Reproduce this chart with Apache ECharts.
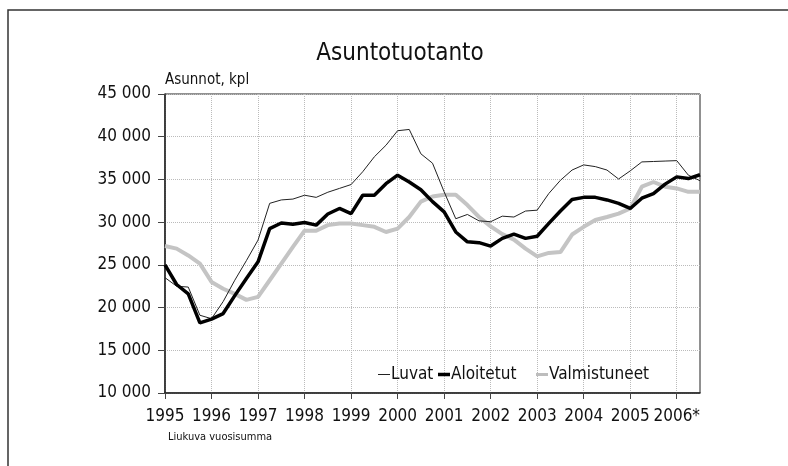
<!DOCTYPE html>
<html>
<head>
<meta charset="utf-8">
<script src="https://cdn.jsdelivr.net/npm/echarts@6/dist/echarts.min.js"></script>
<style>
  html, body { margin: 0; padding: 0; background: #fff; }
  #chart { width: 788px; height: 466px; }
</style>
</head>
<body>
<div id="chart"></div>
<script>
// vuodet ja neljännekset (liukuva vuosisumma, neljännesvuosittain)
const vuodet = ["1995", "1996", "1997", "1998", "1999", "2000", "2001", "2002", "2003", "2004", "2005", "2006*"]
const neljannekset = ["Q1", "Q2", "Q3", "Q4"]

const luvat = [
    23500, 22500, 22400, 19100, 18700, 20700, 23200, 25500,
    27900, 32200, 32600, 32700, 33150, 32900, 33500, 33950,
    34400, 35900, 37650, 39000, 40700, 40850, 38000, 36900,
    33550, 30400, 30900, 30150, 30050, 30700, 30600, 31300,
    31400, 33350, 34900, 36100, 36700, 36500, 36100, 35050,
    36000, 37050, 37100, 37150, 37200, 35500, 34850,
]
const aloitetut = [
    25000, 22700, 21600, 18200, 18650, 19300, 21400, 23400,
    25350, 29250, 29900, 29750, 29950, 29650, 30950, 31600,
    31000, 33150, 33150, 34500, 35500, 34700, 33800, 32400,
    31200, 28850, 27700, 27600, 27200, 28100, 28600, 28100,
    28350, 29850, 31300, 32650, 32900, 32900, 32600, 32200,
    31600, 32800, 33350, 34450, 35300, 35100, 35550,
]
const valmistuneet = [
    27200, 26900, 26100, 25150, 23000, 22200, 21600, 20900,
    21250, 23200, 25150, 27100, 29000, 29000, 29650, 29850,
    29850, 29650, 29450, 28850, 29250, 30600, 32400, 33000,
    33200, 33200, 32000, 30600, 29500, 28600, 27950, 26900,
    26000, 26400, 26500, 28550, 29450, 30250, 30600, 31000,
    31600, 34150, 34700, 34150, 33950, 33550, 33550,
]

const yTicks = [10000, 15000, 20000, 25000, 30000, 35000, 40000, 45000]

// kategoriat: 1995Q1 ... 2006Q3
const kategoriat = []
vuodet.forEach(v => neljannekset.forEach(q => kategoriat.push(v + " " + q)))
kategoriat.length = luvat.length

const fontti = "'DejaVu Sans Condensed', 'Liberation Sans Narrow', sans-serif"

const chart = echarts.init(document.getElementById("chart"))

// yksi selite per sarja, jotta viivan paksuus näkyy oikein
function selite(nimi, left, paksuus) {
    return {
        left: left,
        top: 361,
        icon: "rect",
        itemWidth: 12,
        itemHeight: paksuus,
        textStyle: { fontFamily: fontti, fontSize: 17, color: "#111", padding: [0, 0, 0, -4] },
        data: [nimi],
    }
}

const option = {
    animation: false,
    backgroundColor: "#fff",
    textStyle: { fontFamily: fontti, color: "#111" },
    title: {
        text: "Asuntotuotanto",
        left: 395,
        top: 37,
        textAlign: "center",
        textStyle: { fontFamily: fontti, fontSize: 24, fontWeight: "normal", color: "#111" },
    },
    graphic: [
        {
            type: "rect",
            shape: { x: 8, y: 10, width: 800, height: 480 },
            style: { fill: "none", stroke: "#333", lineWidth: 1.5 },
            silent: true,
        },
        {
            type: "text",
            left: 165,
            top: 73,
            style: { text: "Asunnot, kpl", fontFamily: fontti, fontSize: 15, fill: "#111" },
        },
        {
            type: "text",
            left: 168,
            top: 432,
            style: { text: "Liukuva vuosisumma", fontFamily: fontti, fontSize: 11, fill: "#111" },
        },
    ],
    legend: [
        selite("Luvat", 373, 1),
        selite("Aloitetut", 433, 3.5),
        selite("Valmistuneet", 531, 3),
    ],
    grid: {
        left: 165,
        right: 88,
        top: 94,
        bottom: 73,
        show: true,
        borderColor: "#222",
        borderWidth: 1,
    },
    xAxis: {
        type: "category",
        data: kategoriat,
        boundaryGap: false,
        axisLine: { lineStyle: { color: "#222", width: 1.5 } },
        axisTick: {
            length: 6,
            interval: (i) => i % 4 === 0,
            lineStyle: { color: "#444" },
        },
        axisLabel: {
            interval: (i) => i % 4 === 0,
            formatter: (v) => v.split(" ")[0],
            fontFamily: fontti,
            fontSize: 17,
            color: "#111",
            margin: 15,
        },
        splitLine: {
            show: true,
            interval: (i) => i % 4 === 0,
            lineStyle: { color: "#bbb", type: "dotted" },
        },
    },
    yAxis: {
        type: "value",
        min: yTicks[0],
        max: yTicks[yTicks.length - 1],
        interval: 5000,
        axisLine: { show: true, lineStyle: { color: "#222", width: 1.5 } },
        axisTick: { show: true, length: 7, lineStyle: { color: "#444" } },
        axisLabel: {
            formatter: (v) => String(v).replace(/\B(?=(\d{3})+(?!\d))/g, " "),
            fontFamily: fontti,
            fontSize: 17,
            color: "#111",
            margin: 14,
        },
        splitLine: { lineStyle: { color: "#bbb", type: "dotted" } },
    },
    series: [
        {
            name: "Valmistuneet",
            type: "line",
            data: valmistuneet,
            showSymbol: false,
            symbol: "none",
            z: 2,
            color: "#bdbdbd",
            lineStyle: { color: "#c4c4c4", width: 4 },
        },
        {
            name: "Luvat",
            type: "line",
            data: luvat,
            showSymbol: false,
            symbol: "none",
            z: 3,
            color: "#222",
            lineStyle: { color: "#222", width: 1 },
        },
        {
            name: "Aloitetut",
            type: "line",
            data: aloitetut,
            showSymbol: false,
            symbol: "none",
            z: 4,
            color: "#000",
            lineStyle: { color: "#000", width: 3.5 },
        },
    ],
}

chart.setOption(option)
</script>
</body>
</html>
